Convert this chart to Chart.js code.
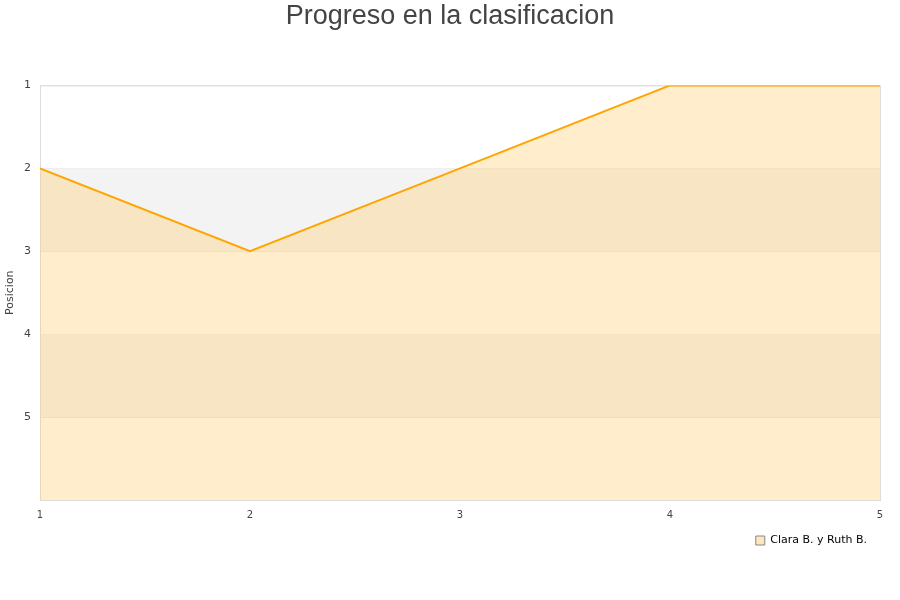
<!DOCTYPE html>
<html>
<head>
<meta charset="utf-8">
<script src="https://cdn.jsdelivr.net/npm/chart.js@4"></script>
<style>
  body { margin: 0; background: #fff; }
</style>
</head>
<body>
<canvas id="grafico" width="900" height="600"></canvas>
<script>
// datos de la grafica
const jornadas = [1, 2, 3, 4, 5];
const posiciones = [2, 3, 2, 1, 1];
const marcasY = [1, 2, 3, 4, 5, 6];
const nombreEquipo = 'Clara B. y Ruth B.';

// bandas alternas grises (2-3 y 4-5) y borde del area
const bandas = {
    id: 'bandas',
    beforeDatasetsDraw(chart) {
        const { ctx, chartArea, scales } = chart;
        const y = scales.y;
        ctx.save();
        ctx.fillStyle = '#f3f3f3';
        [[2, 3], [4, 5]].forEach(([a, b]) => {
            const y1 = y.getPixelForValue(a);
            const y2 = y.getPixelForValue(b);
            ctx.fillRect(chartArea.left, y1, chartArea.right - chartArea.left, y2 - y1);
        });
        ctx.strokeStyle = '#dddddd';
        ctx.lineWidth = 1;
        ctx.strokeRect(chartArea.left + 0.5, chartArea.top + 0.5,
            chartArea.right - chartArea.left, chartArea.bottom - chartArea.top);
        ctx.restore();
    }
};

const ctx = document.getElementById('grafico').getContext('2d');
new Chart(ctx, {
    type: 'line',
    data: {
        datasets: [{
            label: nombreEquipo,
            data: jornadas.map((j, i) => ({ x: j, y: posiciones[i] })),
            borderColor: '#ffa500',
            borderWidth: 2,
            backgroundColor: 'rgba(255, 200, 100, 0.33)',
            fill: 'start',
            pointRadius: 0,
            tension: 0
        }]
    },
    options: {
        responsive: false,
        animation: false,
        layout: { padding: { left: 20, right: 20, top: 0, bottom: 44 } },
        plugins: {
            title: {
                display: true,
                text: 'Progreso en la clasificacion',
                font: { family: 'Liberation Sans', size: 27, weight: 'normal' },
                color: '#444444',
                padding: { top: 0, bottom: 53 }
            },
            legend: {
                position: 'bottom',
                align: 'end',
                labels: {
                    boxWidth: 9,
                    boxHeight: 9,
                    padding: 13,
                    color: '#111111',
                    font: { family: 'DejaVu Sans', size: 11 },
                    generateLabels: () => [{
                        text: nombreEquipo,
                        fillStyle: 'rgba(255, 220, 160, 0.7)',
                        strokeStyle: '#888888',
                        lineWidth: 1
                    }]
                }
            },
            tooltip: { enabled: false }
        },
        scales: {
            x: {
                type: 'linear',
                min: 1,
                max: 5,
                grid: { display: false },
                border: { display: false },
                ticks: {
                    stepSize: 1,
                    padding: 1,
                    color: '#444444',
                    font: { family: 'DejaVu Sans', size: 10 }
                }
            },
            y: {
                reverse: true,
                min: 1,
                max: 6,
                afterBuildTicks: scale => {
                    scale.ticks = marcasY.map(v => ({ value: v }));
                },
                afterFit: scale => {
                    scale.width = 20;
                },
                grid: { color: '#e6e6e6', drawTicks: false },
                border: { display: false },
                title: {
                    display: true,
                    text: 'Posicion',
                    color: '#444444',
                    font: { family: 'DejaVu Sans', size: 11 },
                    padding: { top: -16, bottom: 0 }
                },
                ticks: {
                    color: '#444444',
                    padding: 9,
                    font: { family: 'DejaVu Sans', size: 11 },
                    callback: v => (v === 6 ? '' : v)
                }
            }
        }
    },
    plugins: [bandas]
});
</script>
</body>
</html>
